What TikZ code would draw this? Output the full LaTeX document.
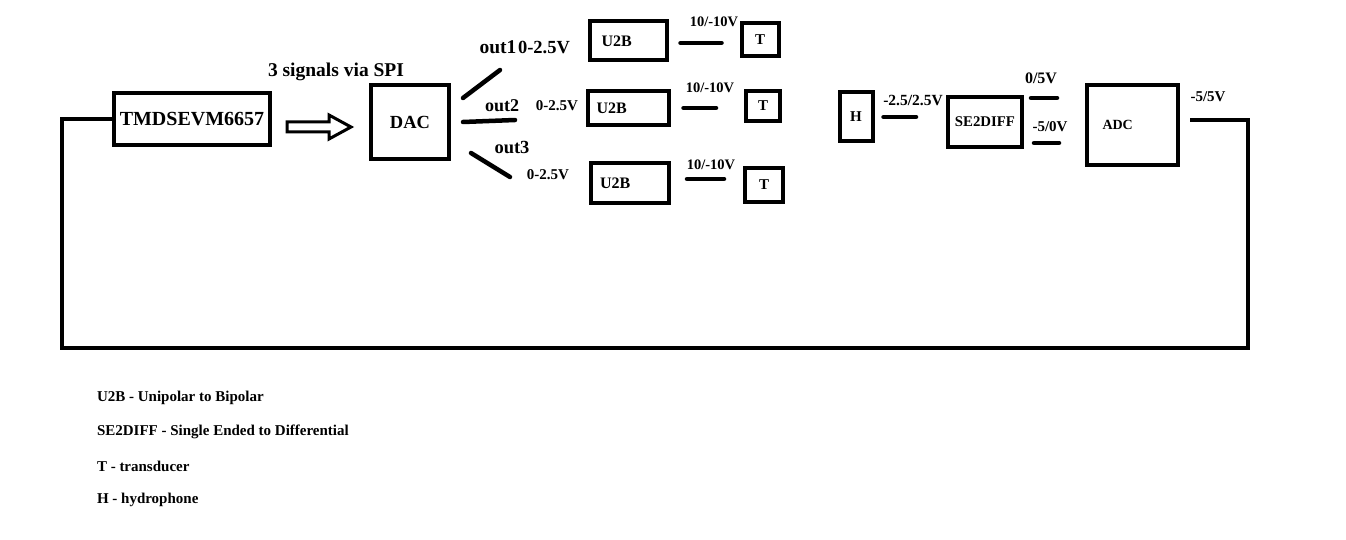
\documentclass[tikz,border=0pt]{standalone}
\usepackage{fontspec}
\setmainfont{Liberation Serif}
\usetikzlibrary{calc}
\newcommand{\fsz}[1]{\fontsize{#1}{#1}\selectfont\bfseries}

\begin{document}
\begin{tikzpicture}[x=1pt, y=-1pt, line width=4pt,
  box/.style={draw, line width=4pt, inner sep=0pt},
  u2b/.style={box, font=\fsz{16}, align=left},
  tbox/.style={box, font=\fsz{15}},
  wire/.style={line width=4.5pt, line cap=round},
  lbl/.style={font=\fsz{15}, inner sep=0pt}]
\useasboundingbox (0,0) rectangle (1346,540);

% processor and DAC
\node[box, minimum width=156, minimum height=52, font=\fsz{20}] (tmds) at (192,119) {TMDSEVM6657};
\node[box, minimum width=78, minimum height=74, font=\fsz{18.5}] (dac) at (410,122) {DAC};
\draw[line width=3pt, line join=miter] (287,122) -- (329,122) -- (329,115) -- (351,127)
  -- (329,139) -- (329,132) -- (287,132) -- cycle;
\node[lbl, font=\fsz{19.5}] (spi) at (336,72) {3 signals via SPI};

% three outputs of the DAC
\coordinate (o1) at (500,70);
\coordinate (o2) at (515,120);
\coordinate (o3) at (510,177);
\draw[wire] ($(dac.east)+(12,-24)$) -- (o1);
\draw[wire] ($(dac.east)+(12,0)$) -- (o2);
\draw[wire] ($(dac.east)+(20,31)$) -- (o3);
\node[lbl, font=\fsz{19.5}] (out1) at (498,47) {out1};
\node[lbl, font=\fsz{18.5}] (v1) at (544,47) {0-2.5V};
\node[lbl, font=\fsz{18}] (out2) at (502,106) {out2};
\node[lbl] (v2) at (557,106) {0-2.5V};
\node[lbl, font=\fsz{18.5}] (out3) at (512,147) {out3};
\node[lbl] (v3) at (548,175) {0-2.5V};

% unipolar to bipolar stages and transducers
\node[u2b, minimum height=39, inner xsep=12pt, text width=53] (u1) at (628,41) {U2B};
\node[u2b, minimum height=34, inner xsep=9pt, text width=63] (u2) at (628,108) {U2B};
\node[u2b, minimum height=40, inner xsep=9pt, text width=60] (u3) at (630,183) {U2B};
\node[tbox, minimum width=37, minimum height=33] (t1) at (760,40) {T};
\node[tbox, minimum width=34, minimum height=30] (t2) at (763,106) {T};
\node[tbox, minimum width=38, minimum height=34] (t3) at (764,185) {T};
\draw[wire, shorten <=12pt, shorten >=18pt] ($(u1.east)+(0,2)$) -- ($(u1.east -| t1.west)+(0,2)$);
\draw[wire, shorten <=13pt, shorten >=28pt] (u2.east) -- (u2.east -| t2.west);
\draw[wire, shorten <=16pt, shorten >=19pt] ($(u3.east)+(0,-4)$) -- ($(u3.east -| t3.west)+(0,-4)$);
\node[lbl, font=\fsz{14.5}] (b1) at (714,22) {10/-10V};
\node[lbl, font=\fsz{14.5}] (b2) at (710,88) {10/-10V};
\node[lbl, font=\fsz{14.5}] (b3) at (711,165) {10/-10V};

% receive side
\node[tbox, minimum width=33, minimum height=49] (h) at (856,117) {H};
\node[box, minimum width=74, minimum height=50, font=\fsz{14.8}] (se) at (985,122) {SE2DIFF};
\node[box, minimum height=80, inner xsep=16pt, text width=59, align=left, font=\fsz{14}] (adc) at (1132,125) {ADC};
\draw[wire, shorten <=9pt, shorten >=30pt] (h.east) -- (h.east -| se.west);
\node[lbl, font=\fsz{15.5}] (hv) at (913,100) {-2.5/2.5V};
\draw[wire] ($(se.east)+(7,-24)$) -- ++(26,0);
\draw[wire] ($(se.east)+(10,21)$) -- ++(25,0);
\node[lbl, font=\fsz{16}] (sp) at (1041,78) {0/5V};
\node[lbl] (sn) at (1050,127) {-5/0V};
\node[lbl] (av) at (1208,97) {-5/5V};

% feedback loop back to the processor
\coordinate (adcout) at (1190,120);
\coordinate (loopR) at (1248,348);
\coordinate (loopL) at (62,348);
\draw[wire, line cap=butt] (adcout) -| (loopR) -- (loopL) |- (tmds.west);

% key
\node[lbl, anchor=west] (key1) at (95,398) {U2B - Unipolar to Bipolar};
\node[lbl, anchor=west] (key2) at (95,432) {SE2DIFF - Single Ended to Differential};
\node[lbl, anchor=west] (key3) at (95,466) {T - transducer};
\node[lbl, anchor=west] (key4) at (95,500) {H - hydrophone};
\end{tikzpicture}
\end{document}
